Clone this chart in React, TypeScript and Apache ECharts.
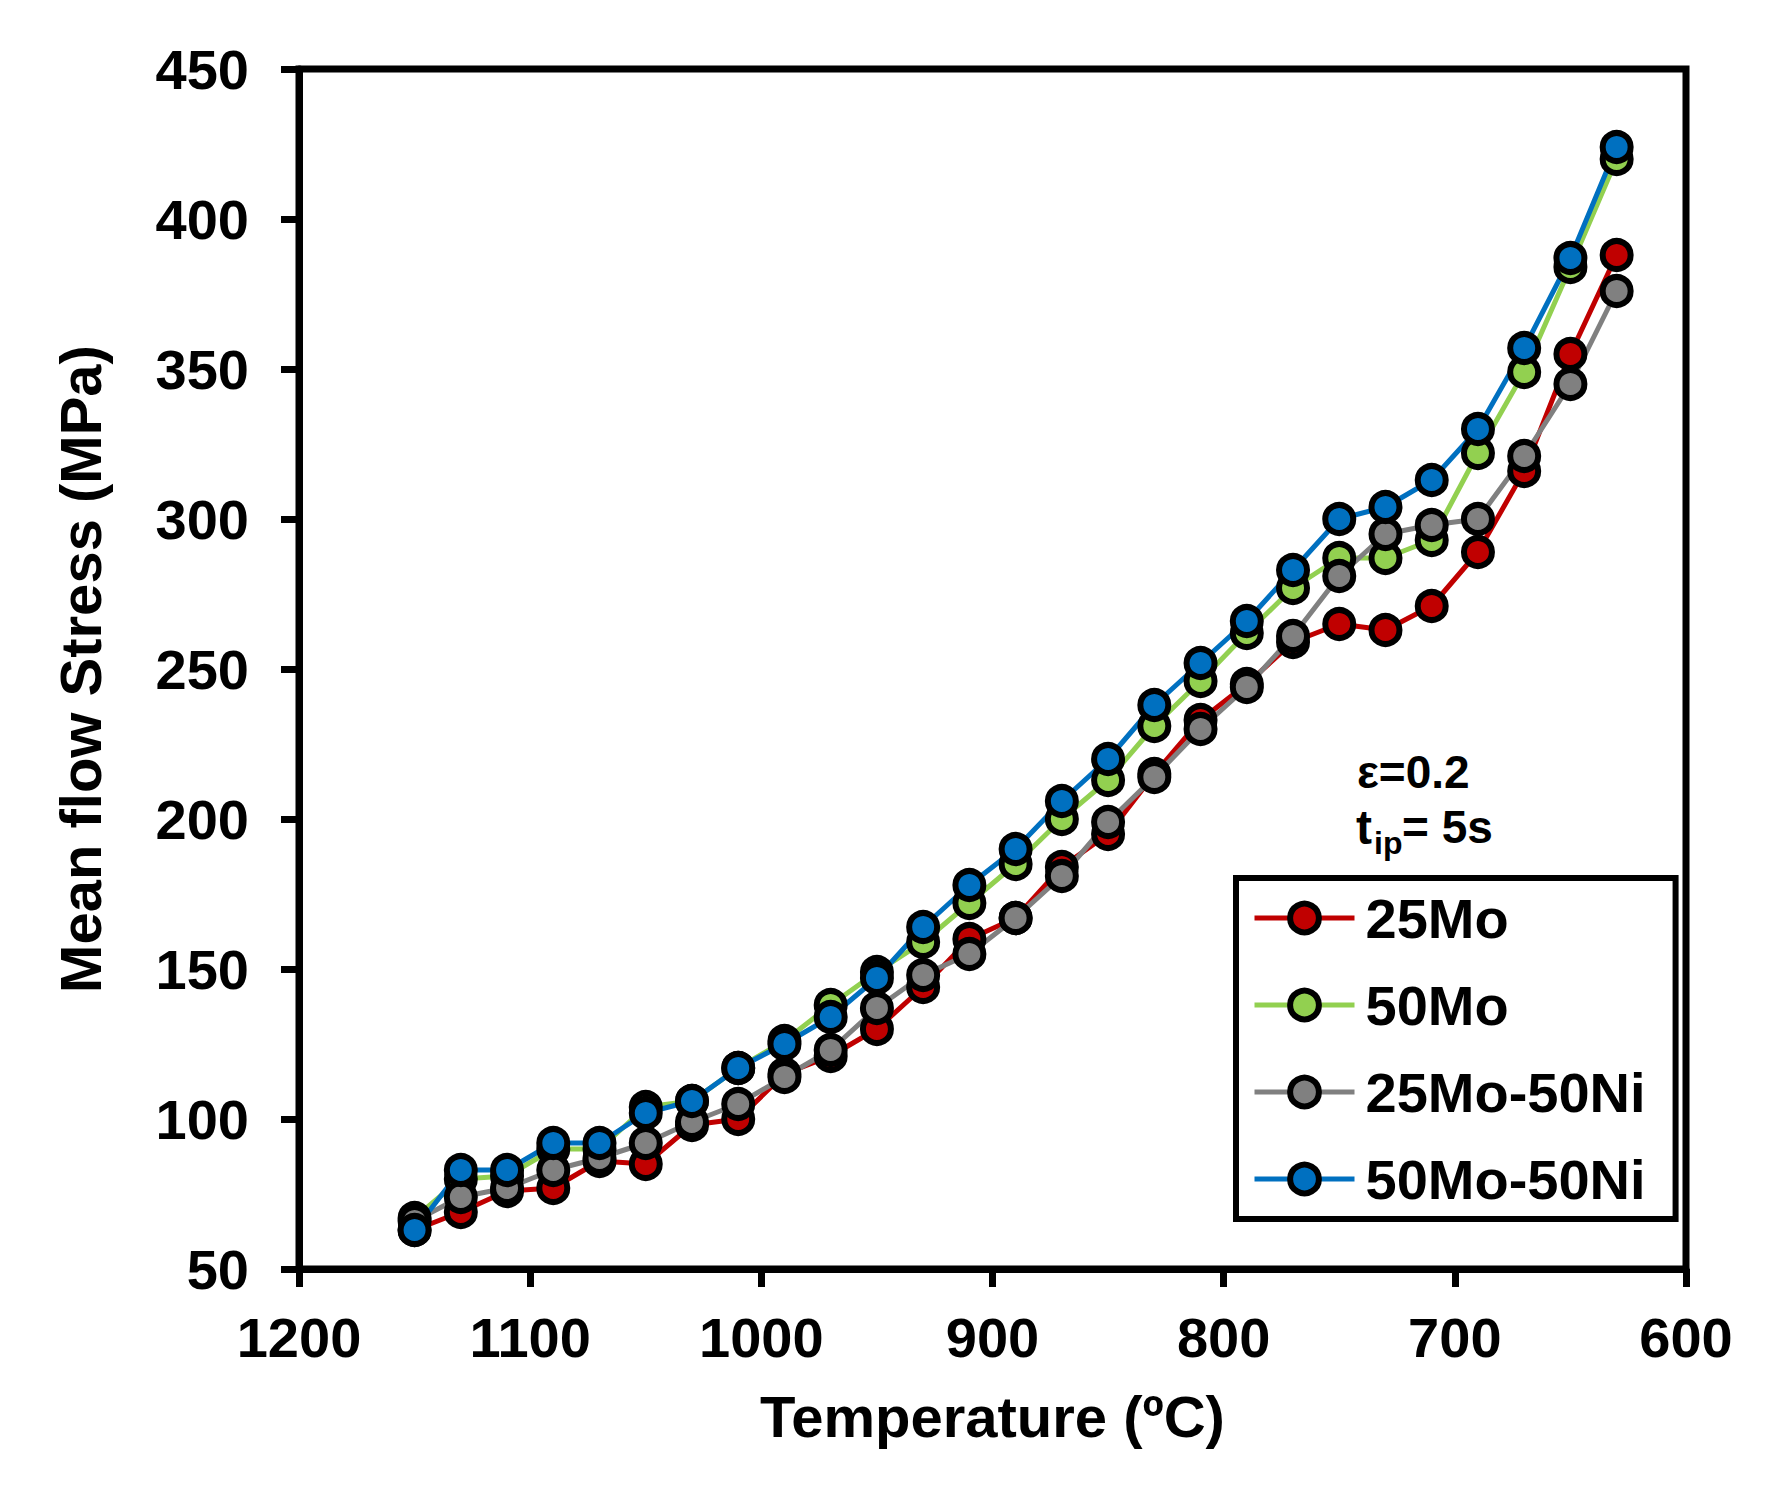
import * as echarts from "echarts";
import { type FC, useEffect, useMemo, useRef } from "react";

// 数据
const temps = [1150, 1130, 1110, 1090, 1070, 1050, 1030, 1010, 990, 970, 950, 930, 910, 890, 870, 850, 830, 810, 790, 770, 750, 730, 710, 690, 670, 650, 630];
const mo25 = [63, 69, 76, 77, 86, 85, 98, 100, 115, 121, 130, 144, 160, 167, 184, 195, 215, 233, 245, 259, 265, 263, 271, 289, 316, 355, 388];
const mo50 = [67, 80, 81, 90, 90, 104, 106, 117, 126, 138, 149, 159, 172, 185, 200, 213, 231, 246, 262, 277, 287, 287, 293, 322, 349, 384, 420];
const mo25ni50 = [66, 74, 77, 83, 87, 92, 99, 105, 114, 123, 137, 148, 155, 167, 181, 199, 214, 230, 244, 261, 281, 295, 298, 300, 321, 345, 376];
const mo50ni50 = [63, 83, 83, 92, 92, 102, 106, 117, 125, 134, 147, 164, 178, 190, 206, 220, 238, 252, 266, 283, 300, 304, 313, 330, 357, 387, 424];

const seriesNames = ["25Mo", "50Mo", "25Mo-50Ni", "50Mo-50Ni"];
const seriesColors = ["#C00000", "#92D050", "#808080", "#0070C0"];
const seriesValues = [mo25, mo50, mo25ni50, mo50ni50];

const FONT = "'Liberation Sans', Arial, sans-serif";

export const FlowStressChart: FC = () => {
  const options = useMemo(() => ({
    animation: false,
    backgroundColor: "#fff",
    textStyle: { fontFamily: FONT },
    grid: {
      left: 299,
      right: 89,
      top: 69,
      bottom: 222,
      containLabel: false,
      outerBoundsMode: "none",
      show: true,
      borderColor: "#000",
      borderWidth: 7,
    },
    legend: {
      orient: "vertical",
      left: 1236,
      top: 878,
      padding: [12, 30, 12, 16],
      itemWidth: 100,
      itemHeight: 36,
      itemGap: 31,
      borderColor: "#000",
      borderWidth: 6,
      backgroundColor: "#fff",
      lineStyle: { width: 5 },
      itemStyle: { borderColor: "#000", borderWidth: 6 },
      textStyle: {
        fontFamily: FONT,
        fontSize: 56,
        fontWeight: "bold",
        color: "#000",
        lineHeight: 56,
        padding: [0, 0, 0, 6],
      },
      data: seriesNames,
    },
    xAxis: {
      type: "value",
      inverse: true,
      min: 600,
      max: 1200,
      interval: 100,
      name: "Temperature (ºC)",
      nameLocation: "middle",
      nameGap: 118,
      nameTextStyle: { fontFamily: FONT, fontSize: 58, fontWeight: "bold", color: "#000" },
      axisLine: { show: true, lineStyle: { color: "#000", width: 7 } },
      axisTick: { show: true, length: 18, lineStyle: { color: "#000", width: 7 } },
      axisLabel: {
        fontFamily: FONT,
        fontSize: 56,
        fontWeight: "bold",
        color: "#000",
        margin: 40,
        formatter: (v: number) => String(v),
      },
      splitLine: { show: false },
    },
    yAxis: {
      type: "value",
      min: 50,
      max: 450,
      interval: 50,
      name: "Mean flow Stress (MPa)",
      nameLocation: "middle",
      nameGap: 190,
      nameTextStyle: { fontFamily: FONT, fontSize: 58, fontWeight: "bold", color: "#000" },
      axisLine: { show: true, lineStyle: { color: "#000", width: 7 } },
      axisTick: { show: true, length: 18, lineStyle: { color: "#000", width: 7 } },
      axisLabel: {
        fontFamily: FONT,
        fontSize: 56,
        fontWeight: "bold",
        color: "#000",
        margin: 50,
        formatter: (v: number) => String(v),
      },
      splitLine: { show: false },
    },
    graphic: [
      {
        type: "text",
        x: 1357,
        y: 772,
        style: { text: "ε=0.2", font: `bold 46px ${FONT}`, fill: "#000", verticalAlign: "middle" },
      },
      {
        type: "text",
        x: 1356,
        y: 827,
        style: { text: "t", font: `bold 48px ${FONT}`, fill: "#000", verticalAlign: "middle" },
      },
      {
        type: "text",
        x: 1374,
        y: 843,
        style: { text: "ip", font: `bold 32px ${FONT}`, fill: "#000", verticalAlign: "middle" },
      },
      {
        type: "text",
        x: 1402,
        y: 827,
        style: { text: "= 5s", font: `bold 46px ${FONT}`, fill: "#000", verticalAlign: "middle" },
      },
    ],
    series: seriesNames.map((name, i) => ({
      name,
      type: "line",
      symbol: "circle",
      symbolSize: 28,
      data: temps.map((t, j) => [t, seriesValues[i][j]]),
      lineStyle: { color: seriesColors[i], width: 5 },
      itemStyle: { color: seriesColors[i], borderColor: "#000", borderWidth: 6 },
      emphasis: { disabled: true },
    })),
  }), []);

  const chartRef = useRef<HTMLDivElement | null>(null);

  useEffect(() => {
    if (!chartRef.current) return;
    const chart = echarts.init(chartRef.current, null, { renderer: "svg" });
    chart.setOption(options as any);
    return () => {
      chart.dispose();
    };
  }, [options]);

  return (
    <div
      ref={chartRef}
      style={{ position: "absolute", left: 0, top: 0, width: 1775, height: 1491, background: "#fff" }} />
  );
};

export default function App() {
  return <FlowStressChart />;
}
